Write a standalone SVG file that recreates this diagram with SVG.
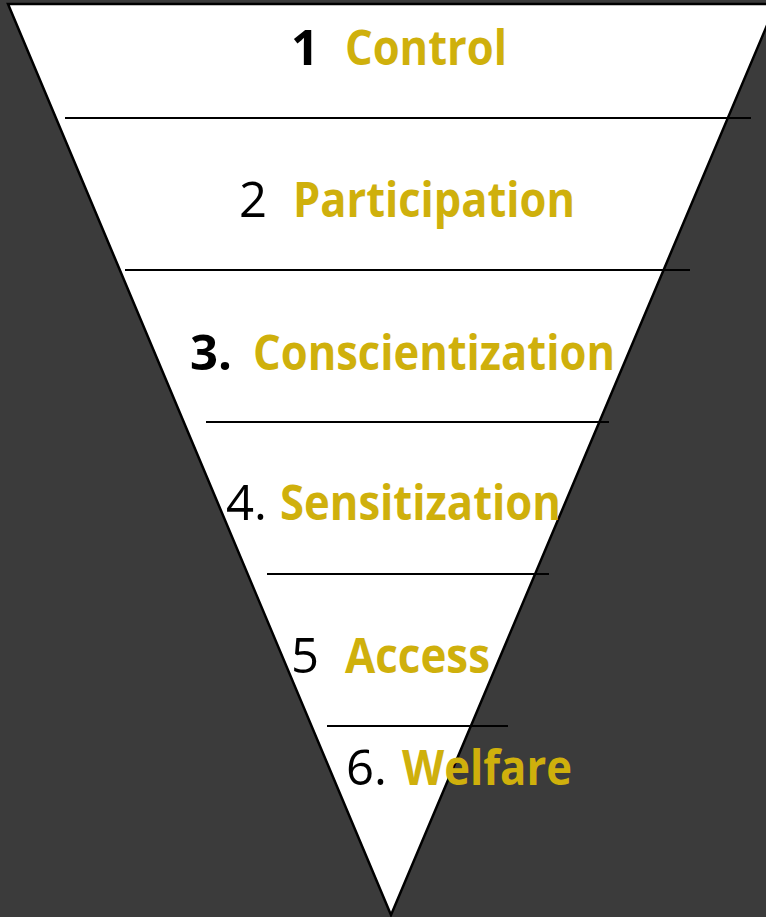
<svg xmlns="http://www.w3.org/2000/svg" width="766" height="917" viewBox="0 0 766 917">
  <style>
    .num { font-family: "Open Sans", "Liberation Sans", sans-serif; font-size: 49px; fill: #000; }
    .b { font-weight: bold; }
    .lbl { font-family: "Open Sans", "Liberation Sans", sans-serif; font-size: 49px; font-weight: bold; fill: #cfb00c; }
    .rule { stroke: #000; stroke-width: 2; }
  </style>
  <rect width="766" height="917" fill="#3b3b3b"/>
  <g id="funnel">
    <polygon points="8,4 776,4 391,915" fill="#fff" stroke="#000" stroke-width="2.5" stroke-linejoin="miter"/>
  </g>
  <g id="dividers">
    <line class="rule" x1="65" y1="118" x2="751" y2="118"/>
    <line class="rule" x1="125" y1="270" x2="690" y2="270"/>
    <line class="rule" x1="206" y1="422" x2="609" y2="422"/>
    <line class="rule" x1="267" y1="574" x2="549" y2="574"/>
    <line class="rule" x1="327" y1="726" x2="508" y2="726"/>
  </g>
  <g id="level-1">
    <text class="num b" x="291" y="65">1</text>
    <text class="lbl" x="345" y="65" textLength="162" lengthAdjust="spacingAndGlyphs">Control</text>
  </g>
  <g id="level-2">
    <text class="num" x="239" y="217">2</text>
    <text class="lbl" x="293" y="217" textLength="282" lengthAdjust="spacingAndGlyphs">Participation</text>
  </g>
  <g id="level-3">
    <text class="num b" x="190" y="370">3.</text>
    <text class="lbl" x="253" y="370" textLength="362" lengthAdjust="spacingAndGlyphs">Conscientization</text>
  </g>
  <g id="level-4">
    <text class="num" x="226" y="520">4.</text>
    <text class="lbl" x="280" y="520" textLength="281" lengthAdjust="spacingAndGlyphs">Sensitization</text>
  </g>
  <g id="level-5">
    <text class="num" x="291" y="673">5</text>
    <text class="lbl" x="345" y="673" textLength="145" lengthAdjust="spacingAndGlyphs">Access</text>
  </g>
  <g id="level-6">
    <text class="num" x="346" y="785">6.</text>
    <text class="lbl" x="402" y="785" textLength="170" lengthAdjust="spacingAndGlyphs">Welfare</text>
  </g>
</svg>
